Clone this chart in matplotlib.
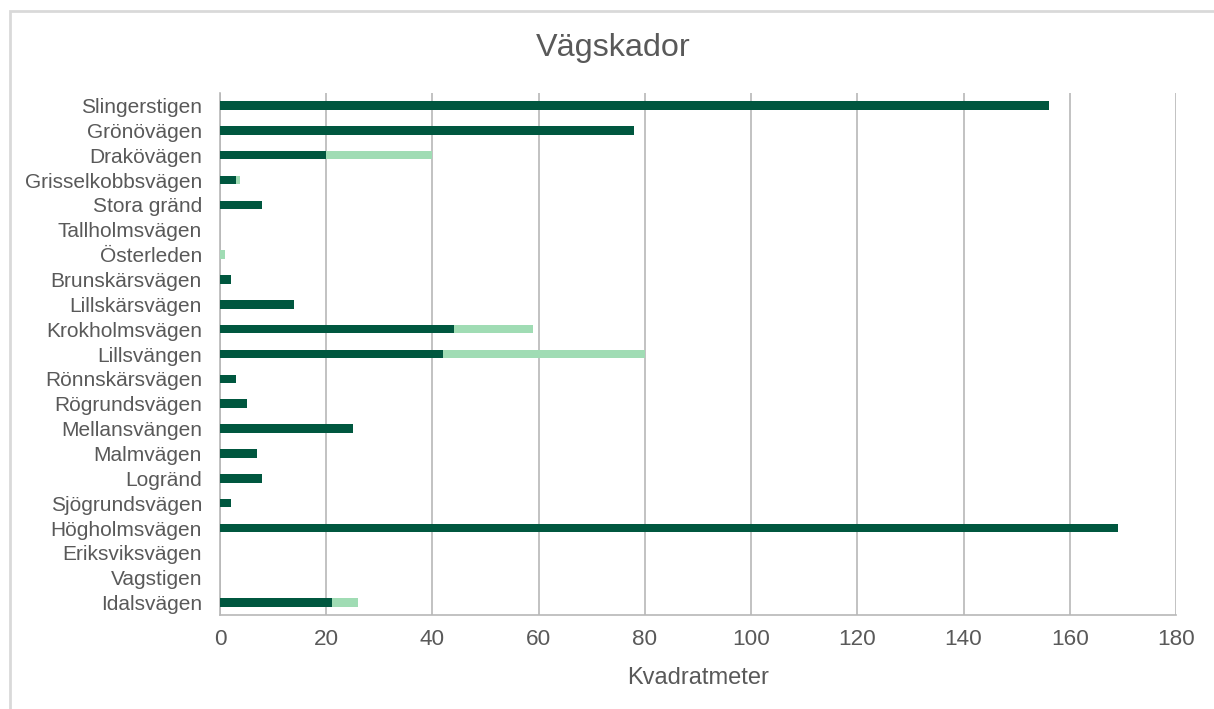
import matplotlib.pyplot as plt
from matplotlib.patches import Rectangle

# Vägskador per väg, kvadratmeter (mörk = serie 1, ljus = serie 2, staplade)
roads = ['Slingerstigen', 'Grönövägen', 'Drakövägen', 'Grisselkobbsvägen', 'Stora gränd',
         'Tallholmsvägen', 'Österleden', 'Brunskärsvägen', 'Lillskärsvägen', 'Krokholmsvägen',
         'Lillsvängen', 'Rönnskärsvägen', 'Rögrundsvägen', 'Mellansvängen', 'Malmvägen',
         'Logränd', 'Sjögrundsvägen', 'Högholmsvägen', 'Eriksviksvägen', 'Vagstigen', 'Idalsvägen']
dark = [156, 78, 20, 3, 8, 0, 0, 2, 14, 44, 42, 3, 5, 25, 7, 8, 2, 169, 0, 0, 21]
light = [0, 0, 20, 0.8, 0, 0, 1, 0, 0, 15, 38, 0, 0, 0, 0, 0, 0, 0, 0, 0, 5]
xticks = [0, 20, 40, 60, 80, 100, 120, 140, 160, 180]

plt.rcParams['font.family'] = ['Liberation Sans', 'DejaVu Sans']
txt = '#595959'

fig = plt.figure(figsize=(12.14, 7.09), dpi=100)
ax = fig.add_axes([220 / 1214, 1 - 615 / 709, 956 / 1214, 522 / 709])

ypos = list(range(len(roads)))
ax.barh(ypos, dark, height=0.34, color='#00573F', zorder=3)
ax.barh(ypos, light, left=dark, height=0.34, color='#A0DCB4', zorder=3)

ax.set_xlim(0, 180)
ax.set_ylim(20.5, -0.5)
ax.set_xticks(xticks)
ax.set_yticks(ypos)
ax.set_yticklabels(roads)
ax.tick_params(axis='both', length=0, labelsize=15, labelcolor=txt)
ax.tick_params(axis='x', labelsize=16.2)
ax.tick_params(axis='y', pad=13)
ax.tick_params(axis='x', pad=10)
ax.grid(axis='x', color='#B8B8B8', linewidth=1.2, zorder=0)
for s in ['top', 'right']:
    ax.spines[s].set_visible(False)
for s in ['left', 'bottom']:
    ax.spines[s].set_color('#B8B8B8')
    ax.spines[s].set_linewidth(1.2)
ax.set_xlabel('Kvadratmeter', fontsize=17, color=txt, labelpad=12)

fig.text(613.5 / 1214, 1 - 48 / 709, 'Vägskador', fontsize=23.3, color=txt,
         ha='center', va='center')

# yttre ram (syns bara upptill och till vänster)
fig.patches.append(Rectangle((9.5 / 1214, -0.2), 1.5, 1.2 - 10.5 / 709,
                             transform=fig.transFigure, fill=False,
                             edgecolor='#D9D9D9', linewidth=2))

fig.savefig('out.png', dpi=100)
